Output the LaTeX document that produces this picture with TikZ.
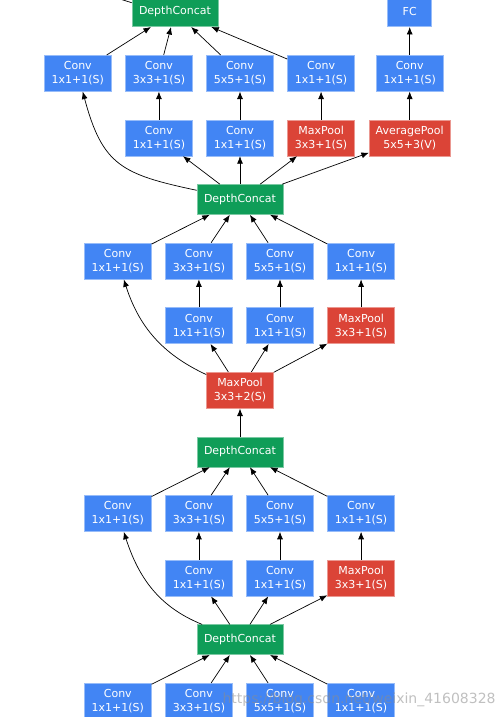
\documentclass[tikz,border=0pt]{standalone}
\usepackage{fontspec}
\setmainfont{DejaVu Sans}
\usetikzlibrary{arrows.meta, positioning}
\definecolor{convblue}{HTML}{4285F4}
\definecolor{concatgreen}{HTML}{0F9D58}
\definecolor{poolred}{HTML}{DB4437}
\tikzset{
    layer/.style={
        rectangle, minimum width=67pt, minimum height=36pt, inner sep=1pt,
        align=center, text=white, line width=0.6pt,
        font=\fontsize{11}{14}\selectfont
    },
    conv/.style={
        layer, fill=convblue, draw=convblue!55!white
    },
    pool/.style={
        layer, fill=poolred, draw=poolred!55!white
    },
    concat/.style={
        layer, minimum width=86pt, minimum height=30pt,
        fill=concatgreen, draw=concatgreen!55!white
    },
    arrow/.style={
        -{Latex[length=7.5pt, width=6pt]}, line width=0.7pt, draw=black
    },
    watermark/.style={
        font=\fontsize{14}{16}\selectfont, text=black!45, opacity=0.55
    }
}

\begin{document}
\begin{tikzpicture}[node distance=28pt and 13.5pt, x=1pt, y=1pt]
    \useasboundingbox (0,0) rectangle (500,-717);
    \clip (0,0) rectangle (500,-717);

    % ── Nodes: upper inception ──
    \node[concat]                              (cat2)  at (240,-199.5) {DepthConcat};
    \node[conv, above=of cat2]                 (c2)    {Conv\\1x1+1(S)};
    \node[conv, left=of c2]                    (b2)    {Conv\\1x1+1(S)};
    \node[pool, right=of c2]                   (d2)    {MaxPool\\3x3+1(S)};
    \node[conv, above=of b2]                   (b1)    {Conv\\3x3+1(S)};
    \node[conv, above=of c2]                   (c1)    {Conv\\5x5+1(S)};
    \node[conv, above=of d2]                   (d1)    {Conv\\1x1+1(S)};
    \node[conv, left=of b1]                    (a1)    {Conv\\1x1+1(S)};
    \node[conv, right=21pt of d1]              (e1)    {Conv\\1x1+1(S)};
    \node[pool, minimum width=81pt, below=of e1] (e2)  {AveragePool\\5x5+3(V)};
    \node[conv, minimum width=44pt, minimum height=30pt, above=of e1] (fc) {FC};
    \node[concat, above=of c1, xshift=-65pt]   (cat1)  {DepthConcat};
    \coordinate[above left=19pt and 32pt of cat1.west] (topout);

    % ── Nodes: middle inception ──
    \node[conv, below=of cat2, xshift=40pt]    (c3)    {Conv\\5x5+1(S)};
    \node[conv, left=of c3]                    (b3)    {Conv\\3x3+1(S)};
    \node[conv, left=of b3]                    (a3)    {Conv\\1x1+1(S)};
    \node[conv, right=of c3]                   (d3)    {Conv\\1x1+1(S)};
    \node[conv, below=of b3]                   (b4)    {Conv\\1x1+1(S)};
    \node[conv, below=of c3]                   (c4)    {Conv\\1x1+1(S)};
    \node[pool, below=of d3]                   (d4)    {MaxPool\\3x3+1(S)};
    \node[pool, below=of c4, xshift=-40pt]     (mpool) {MaxPool\\3x3+2(S)};
    \node[concat, below=of mpool]              (cat3)  {DepthConcat};

    % ── Nodes: lower inception ──
    \node[conv, below=of cat3, xshift=40pt]    (c5)    {Conv\\5x5+1(S)};
    \node[conv, left=of c5]                    (b5)    {Conv\\3x3+1(S)};
    \node[conv, left=of b5]                    (a5)    {Conv\\1x1+1(S)};
    \node[conv, right=of c5]                   (d5)    {Conv\\1x1+1(S)};
    \node[conv, below=of b5]                   (b6)    {Conv\\1x1+1(S)};
    \node[conv, below=of c5]                   (c6)    {Conv\\1x1+1(S)};
    \node[pool, below=of d5]                   (d6)    {MaxPool\\3x3+1(S)};
    \node[concat, below=of c6, xshift=-40pt]   (cat4)  {DepthConcat};

    % ── Nodes: bottom row ──
    \node[conv, below=of cat4, xshift=40pt]    (c7)    {Conv\\5x5+1(S)};
    \node[conv, left=of c7]                    (b7)    {Conv\\3x3+1(S)};
    \node[conv, left=of b7]                    (a7)    {Conv\\1x1+1(S)};
    \node[conv, right=of c7]                   (d7)    {Conv\\1x1+1(S)};
    \coordinate[below=12pt of a7.south, xshift=6pt] (ina);
    \coordinate[below=12pt of b7.south]        (inb);
    \coordinate[below=12pt of c7.south]        (inc);
    \coordinate[below=12pt of d7.south]        (ind);

    % ── Arrows: upper ──
    \draw[arrow] ([yshift=9pt]cat1.west) -- (topout);
    \draw[arrow] (a1) -- (cat1);
    \draw[arrow] (b1) -- (cat1);
    \draw[arrow] (c1) -- (cat1);
    \draw[arrow] (d1) -- (cat1);
    \draw[arrow] (e1) -- (fc);
    \draw[arrow] (b2) -- (b1);
    \draw[arrow] (c2) -- (c1);
    \draw[arrow] (d2) -- (d1);
    \draw[arrow] (e2) -- (e1);
    \draw[arrow] (cat2) to[out=168, in=-75, looseness=1.3] (a1);
    \draw[arrow] (cat2) -- (b2);
    \draw[arrow] (cat2) -- (c2);
    \draw[arrow] (cat2) -- (d2);
    \draw[arrow] (cat2) -- (e2);

    % ── Arrows: middle ──
    \draw[arrow] (a3) -- (cat2);
    \draw[arrow] (b3) -- (cat2);
    \draw[arrow] (c3) -- (cat2);
    \draw[arrow] (d3) -- (cat2);
    \draw[arrow] (b4) -- (b3);
    \draw[arrow] (c4) -- (c3);
    \draw[arrow] (d4) -- (d3);
    \draw[arrow] (mpool) to[out=155, in=-72] (a3);
    \draw[arrow] (mpool) -- (b4);
    \draw[arrow] (mpool) -- (c4);
    \draw[arrow] (mpool) -- (d4);
    \draw[arrow] (cat3) -- (mpool);

    % ── Arrows: lower ──
    \draw[arrow] (a5) -- (cat3);
    \draw[arrow] (b5) -- (cat3);
    \draw[arrow] (c5) -- (cat3);
    \draw[arrow] (d5) -- (cat3);
    \draw[arrow] (b6) -- (b5);
    \draw[arrow] (c6) -- (c5);
    \draw[arrow] (d6) -- (d5);
    \draw[arrow] (cat4) to[out=158, in=-72] (a5);
    \draw[arrow] (cat4) -- (b6);
    \draw[arrow] (cat4) -- (c6);
    \draw[arrow] (cat4) -- (d6);

    % ── Arrows: bottom ──
    \draw[arrow] (a7) -- (cat4);
    \draw[arrow] (b7) -- (cat4);
    \draw[arrow] (c7) -- (cat4);
    \draw[arrow] (d7) -- (cat4);
    \draw[arrow] (ina) -- ([xshift=6pt]a7.south);
    \draw[arrow] (inb) -- (b7);
    \draw[arrow] (inc) -- (c7);
    \draw[arrow] (ind) -- (d7);

    % ── Watermark ──
    \node[watermark, anchor=base west] (wm) at (219,-703) {https://blog.csdn.net/weixin\_41608328};

\end{tikzpicture}
\end{document}
